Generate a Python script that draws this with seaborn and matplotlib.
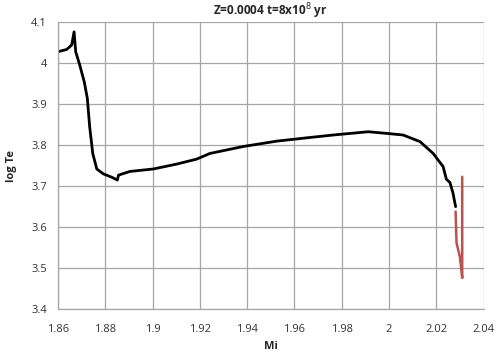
import matplotlib
matplotlib.use("Agg")
import matplotlib.pyplot as plt
import seaborn as sns
import pandas as pd

black_mi = [1.8597, 1.8637, 1.8658, 1.8668, 1.8675, 1.8690, 1.8711, 1.8724, 1.8734,
            1.8747, 1.8764, 1.8792, 1.8827, 1.8851, 1.8856, 1.8904, 1.9003, 1.9102,
            1.9186, 1.9243, 1.9384, 1.9525, 1.9666, 1.9764, 1.9912, 1.9990, 2.0060,
            2.0131, 2.0187, 2.0229, 2.0243, 2.0258, 2.0271, 2.0282]
black_te = [4.028, 4.034, 4.045, 4.077, 4.028, 4.000, 3.955, 3.915, 3.845,
            3.780, 3.742, 3.730, 3.722, 3.715, 3.727, 3.736, 3.742, 3.754,
            3.766, 3.780, 3.797, 3.810, 3.819, 3.825, 3.833, 3.829, 3.825,
            3.809, 3.780, 3.748, 3.717, 3.709, 3.683, 3.650]
red_mi = [2.0282, 2.0286, 2.0300, 2.0310, 2.0310]
red_te = [3.638, 3.561, 3.528, 3.476, 3.723]

x_ticks = [1.86, 1.88, 1.9, 1.92, 1.94, 1.96, 1.98, 2.0, 2.02, 2.04]
x_tick_labels = ["1.86", "1.88", "1.9", "1.92", "1.94", "1.96", "1.98", "2", "2.02", "2.04"]
y_ticks = [3.4, 3.5, 3.6, 3.7, 3.8, 3.9, 4.0, 4.1]
y_tick_labels = ["3.4", "3.5", "3.6", "3.7", "3.8", "3.9", "4", "4.1"]

sns.set_theme(style="white")
plt.rcParams['font.family'] = ['Open Sans', 'DejaVu Sans']

df_black = pd.DataFrame({"Mi": black_mi, "logTe": black_te})
df_red = pd.DataFrame({"Mi": red_mi, "logTe": red_te})

fig = plt.figure(figsize=(5.0, 3.56), dpi=100)
ax = fig.add_axes([0.116, 0.132, 0.851, 0.805])

sns.lineplot(data=df_black, x="Mi", y="logTe", sort=False, estimator=None, color="black", linewidth=2.0, ax=ax)
sns.lineplot(data=df_red, x="Mi", y="logTe", sort=False, estimator=None, color="#C0504D", linewidth=1.8, ax=ax)

ax.set_xlim(1.86, 2.04)
ax.set_ylim(3.4, 4.1)
ax.set_xticks(x_ticks)
ax.set_xticklabels(x_tick_labels)
ax.set_yticks(y_ticks)
ax.set_yticklabels(y_tick_labels)
ax.grid(True, color="#A6A6A6", linewidth=0.9)
ax.set_axisbelow(True)
for s in ["top", "right"]:
    ax.spines[s].set_visible(False)
for s in ["left", "bottom"]:
    ax.spines[s].set_color("#A6A6A6")
    ax.spines[s].set_linewidth(0.9)
ax.tick_params(axis="both", length=0, labelsize=8, colors="#333333")
ax.tick_params(axis="y", pad=8)
ax.tick_params(axis="x", pad=11)
ax.set_xlabel("Mi", fontsize=8, fontweight="bold", labelpad=4)
ax.set_ylabel("log Te", fontsize=8, fontweight="bold", labelpad=10)
ax.set_title("Z=0.0004 t=8x10$^8$ yr", fontsize=8.5, fontweight="bold", pad=5)

fig.savefig("out.png", dpi=100)
